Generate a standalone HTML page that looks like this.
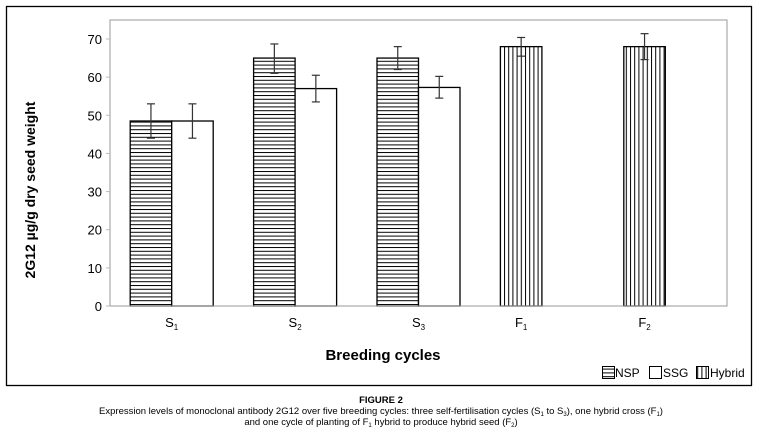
<!DOCTYPE html>
<html><head><meta charset="utf-8">
<style>
body{margin:0;background:#fff;width:761px;height:439px;overflow:hidden;font-family:"Liberation Sans",Arial,sans-serif;}
svg{display:block}
</style></head>
<body>
<svg id="chart" width="761" height="439" viewBox="0 0 761 439" xmlns="http://www.w3.org/2000/svg">
<defs>
<pattern id="hpat" width="8" height="3.8" patternUnits="userSpaceOnUse"><rect width="8" height="3.8" fill="#fff"/><line x1="0" y1="0.5" x2="8" y2="0.5" stroke="#000" stroke-width="1"/></pattern>
<pattern id="vpat" width="4.2" height="8" patternUnits="userSpaceOnUse"><rect width="4.2" height="8" fill="#fff"/><line x1="0.5" y1="0" x2="0.5" y2="8" stroke="#000" stroke-width="1"/></pattern>
</defs>
<rect x="6.5" y="6.5" width="745" height="379" fill="#fff" stroke="#000" stroke-width="1.3"/>
<rect x="110" y="20" width="617" height="286" fill="#fff" stroke="#999" stroke-width="1"/>
<g id="yaxis"></g>
<g id="bars"></g>
<g id="xaxis"></g>
<text x="35" y="190" transform="rotate(-90 35 190)" text-anchor="middle" font-size="14" font-weight="bold">2G12 µg/g dry seed weight</text>
<text x="383" y="360" text-anchor="middle" font-size="15" font-weight="bold">Breeding cycles</text>
<g font-size="12">
<g><rect x="602.5" y="366.5" width="12" height="12" fill="url(#hpat)" stroke="#000"/><text x="615" y="377">NSP</text></g>
<g><rect x="649.5" y="366.5" width="12" height="12" fill="#fff" stroke="#000"/><text x="663" y="377">SSG</text></g>
<g><rect x="696.5" y="366.5" width="12" height="12" fill="url(#vpat)" stroke="#000"/><text x="710" y="377">Hybrid</text></g>
</g>
<g font-size="9.5" text-anchor="middle">
<text x="381" y="403" font-weight="bold">FIGURE 2</text>
<text x="381" y="414">Expression levels of monoclonal antibody 2G12 over five breeding cycles: three self-fertilisation cycles (S<tspan font-size="6" dy="2">1</tspan><tspan dy="-2"> to S</tspan><tspan font-size="6" dy="2">3</tspan><tspan dy="-2">), one hybrid cross (F</tspan><tspan font-size="6" dy="2">1</tspan><tspan dy="-2">)</tspan></text>
<text x="381" y="425">and one cycle of planting of F<tspan font-size="6" dy="2">1</tspan><tspan dy="-2"> hybrid to produce hybrid seed (F</tspan><tspan font-size="6" dy="2">2</tspan><tspan dy="-2">)</tspan></text>
</g>
</svg>
<script>
const categories = ["S1","S2","S3","F1","F2"];
const catMain = ["S","S","S","F","F"];
const catSub = ["1","2","3","1","2"];
const nspValues = [48.5, 65, 65, null, null];
const nspErrLow = [44, 61, 62, null, null];
const nspErrHigh = [53, 68.7, 68, null, null];
const ssgValues = [48.5, 57, 57.3, null, null];
const ssgErrLow = [44, 53.5, 54.5, null, null];
const ssgErrHigh = [53, 60.5, 60.2, null, null];
const hybridValues = [null, null, null, 68, 68];
const hybridErrLow = [null, null, null, 65.5, 64.6];
const hybridErrHigh = [null, null, null, 70.4, 71.4];
const yTicks = [0,10,20,30,40,50,60,70];

const NS="http://www.w3.org/2000/svg";
const X0=110, X1=727, Y0=306, YTOP=39, YMAX=70;
const bw=41.5;
function y(v){return Y0-(v/YMAX)*(Y0-YTOP);}
function xc(i){return X0+(X1-X0)/categories.length*(i+0.5);}
function mk(tag,attrs,parent){const e=document.createElementNS(NS,tag);for(const k in attrs)e.setAttribute(k,attrs[k]);parent.appendChild(e);return e;}

const ya=document.getElementById('yaxis');
yTicks.forEach(t=>{
  const l=mk('line',{x1:X0-4,x2:X0,y1:y(t),y2:y(t),stroke:'#bbb'},ya);
  
  
  const tx=mk('text',{x:X0-8,y:y(t)+5,'text-anchor':'end','font-size':13},ya);
  tx.textContent=t;
  
  
});

const bars=document.getElementById('bars');
function drawBar(i,slot,v,lo,hi,fill,name){
  if(v==null)return;
  const x=xc(i)+(slot===0?-bw:0);
  const r=mk('rect',{x:x,y:y(v),width:bw,height:Y0-y(v),fill:fill,stroke:'#000','stroke-width':1.3},bars);
  
  
  const cx=x+bw/2;
  const g=mk('g',{stroke:'#333','stroke-width':1.2},bars);
  
  
  mk('line',{x1:cx,x2:cx,y1:y(lo),y2:y(hi)},g);
  mk('line',{x1:cx-4,x2:cx+4,y1:y(lo),y2:y(lo)},g);
  mk('line',{x1:cx-4,x2:cx+4,y1:y(hi),y2:y(hi)},g);
}
categories.forEach((c,i)=>{
  drawBar(i,0,nspValues[i],nspErrLow[i],nspErrHigh[i],'url(#hpat)','bar-nsp-'+c);
  drawBar(i,1,ssgValues[i],ssgErrLow[i],ssgErrHigh[i],'#fff','bar-ssg-'+c);
  drawBar(i,0,hybridValues[i],hybridErrLow[i],hybridErrHigh[i],'url(#vpat)','bar-hybrid-'+c);
});
const xa=document.getElementById('xaxis');
mk('line',{x1:X0,x2:X1,y1:Y0,y2:Y0,stroke:'#999'},xa);
categories.forEach((c,i)=>{
  const cx=(hybridValues[i]!=null)?xc(i)-bw/2:xc(i);
  const t=mk('text',{x:cx,y:327,'text-anchor':'middle','font-size':13},xa);
  
  
  t.appendChild(document.createTextNode(catMain[i]));
  const s=mk('tspan',{'font-size':8,dy:3},t);
  s.textContent=catSub[i];
});
</script>
</body></html>
